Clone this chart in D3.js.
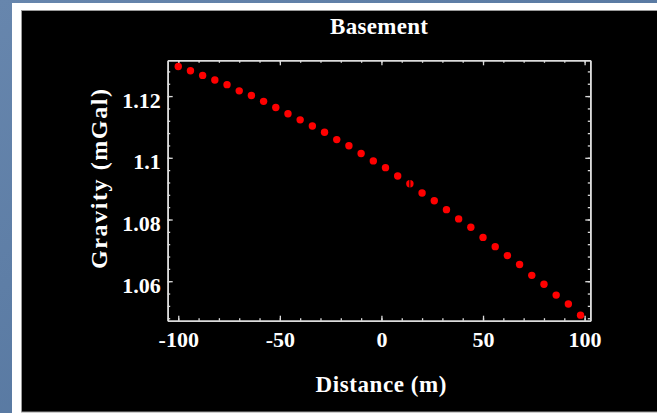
<!DOCTYPE html>
<html>
<head>
<meta charset="utf-8">
<script src="https://cdn.jsdelivr.net/npm/d3@7/dist/d3.min.js"></script>
<style>
  html, body { margin: 0; padding: 0; background: #5878a0; }
  svg { display: block; }
</style>
</head>
<body>
<svg id="chart" width="657" height="413"></svg>
<script>
// ---- data ----
const title = "Basement";
const xLabel = "Distance (m)";
const yLabel = "Gravity (mGal)";

const distance = [-100, -94, -88, -82, -76, -70, -64, -58, -52, -46, -40, -34,
  -28, -22, -16, -10, -4, 2, 8, 14, 20, 26, 32, 38, 44, 50, 56, 62, 68, 74,
  80, 86, 92, 98];
const gravity = [1.1296, 1.1282, 1.1267, 1.1252, 1.1237, 1.1217, 1.1202,
  1.1183, 1.1163, 1.1143, 1.1123, 1.1103, 1.1083, 1.1059, 1.1039, 1.1014,
  1.0990, 1.0968, 1.0941, 1.0916, 1.0886, 1.0861, 1.0832, 1.0802, 1.0775,
  1.0742, 1.0712, 1.0683, 1.0654, 1.0619, 1.0590, 1.0555, 1.0526, 1.0490];

const xMajorTicks = [-100, -50, 0, 50, 100];
const xTickLabels = ["-100", "-50", "0", "50", "100"];
const xMinorTicks = [-100, -90, -80, -70, -60, -50, -40, -30, -20, -10, 0, 10, 20, 30, 40, 50, 60, 70, 80, 90, 100];
const yMajorTicks = [1.06, 1.08, 1.1, 1.12];
const yMinorTicks = [1.048, 1.052, 1.056, 1.06, 1.064, 1.068, 1.072, 1.076, 1.08,
  1.084, 1.088, 1.092, 1.096, 1.1, 1.104, 1.108, 1.112, 1.116, 1.12, 1.124, 1.128];
const yTickLabels = ["1.06", "1.08", "1.1", "1.12"];

// ---- drawing ----
const svg = d3.select("#chart");
const W = 657, H = 413;

// slide-like background
const defs = svg.append("defs");
const grad = defs.append("linearGradient").attr("id", "bg").attr("x1", 0).attr("y1", 0).attr("x2", 1).attr("y2", 1);
grad.append("stop").attr("offset", "0%").attr("stop-color", "#6786ad");
grad.append("stop").attr("offset", "100%").attr("stop-color", "#4d6f99");
svg.append("rect").attr("width", W).attr("height", H).attr("fill", "url(#bg)");

// white card and black panel
svg.append("rect").attr("x", 12).attr("y", 3).attr("width", W - 12).attr("height", H - 3).attr("fill", "#ffffff");
svg.append("rect").attr("x", 21.5).attr("y", 10.5).attr("width", W - 20).attr("height", 401.5)
  .attr("fill", "#000000").attr("stroke", "#9a9a9a").attr("stroke-width", 1);

const plot = { left: 167.7, right: 590.3, top: 60.3, bottom: 320.7 };
const frameColor = "#dcdcdc";
const font = "'Liberation Serif', 'Times New Roman', serif";

const x = d3.scaleLinear().domain([-105.2, 102.8]).range([plot.left, plot.right]);
const y = d3.scaleLinear().domain([1.0472, 1.1316]).range([plot.bottom, plot.top]);

function styleAxis(g) {
  g.select(".domain").attr("stroke", frameColor).attr("stroke-width", 1.6);
  g.selectAll(".tick line").attr("stroke", frameColor).attr("stroke-width", 1.3);
  g.selectAll(".tick text").attr("fill", "#ffffff").attr("font-family", font)
    .attr("font-weight", "bold").attr("font-size", "22px");
}

const sides = [
  { axis: d3.axisBottom, scale: x, t: `translate(0,${plot.bottom})`, minor: xMinorTicks, major: xMajorTicks, labels: xTickLabels },
  { axis: d3.axisTop, scale: x, t: `translate(0,${plot.top})`, minor: xMinorTicks, major: xMajorTicks, labels: null },
  { axis: d3.axisLeft, scale: y, t: `translate(${plot.left},0)`, minor: yMinorTicks, major: yMajorTicks, labels: yTickLabels },
  { axis: d3.axisRight, scale: y, t: `translate(${plot.right},0)`, minor: yMinorTicks, major: yMajorTicks, labels: null }
];

sides.forEach((s, i) => {
  const gMin = svg.append("g").attr("transform", s.t)
    .call(s.axis(s.scale).tickValues(s.minor).tickSizeInner(-2.5).tickSizeOuter(0).tickFormat(""));
  styleAxis(gMin);
  const isX = (i < 2);
  const ax = s.axis(s.scale).tickValues(s.major).tickSizeInner(-5).tickSizeOuter(0).tickPadding(isX ? 11 : 7);
  if (!s.labels) ax.tickFormat("");
  else ax.tickFormat((d, k) => s.labels[k]);
  const gMaj = svg.append("g").attr("transform", s.t).call(ax);
  styleAxis(gMaj);
  if (i === 0) gMaj.selectAll(".tick text").attr("dy", "0.71em");
  if (i === 2) gMaj.selectAll(".tick text").attr("dy", "0.5em");
});

// points
svg.append("g").selectAll("circle")
  .data(distance.map((d, i) => [d, gravity[i]]))
  .join("circle")
  .attr("cx", d => x(d[0]))
  .attr("cy", d => y(d[1]))
  .attr("r", 3.7)
  .attr("fill", "#ff0000");

// small rendering gap visible through one marker in the reference
const gapIndex = distance.indexOf(14);
svg.append("line")
  .attr("x1", x(distance[gapIndex])).attr("x2", x(distance[gapIndex]))
  .attr("y1", y(gravity[gapIndex]) - 4).attr("y2", y(gravity[gapIndex]) + 4)
  .attr("stroke", "#000").attr("stroke-width", 1);

// title and axis labels
function label(sel, len, size) {
  return sel.attr("text-anchor", "middle").attr("fill", "#fff").attr("font-family", font)
    .attr("font-weight", "bold").attr("font-size", size + "px")
    .attr("textLength", len).attr("lengthAdjust", "spacing");
}
label(svg.append("text").attr("x", 379).attr("y", 34).text(title), 98, 23);
label(svg.append("text").attr("x", 381).attr("y", 392).text(xLabel), 131, 23);
label(svg.append("text").attr("transform", "translate(107,179) rotate(-90)").text(yLabel), 180, 24);
</script>
</body>
</html>
